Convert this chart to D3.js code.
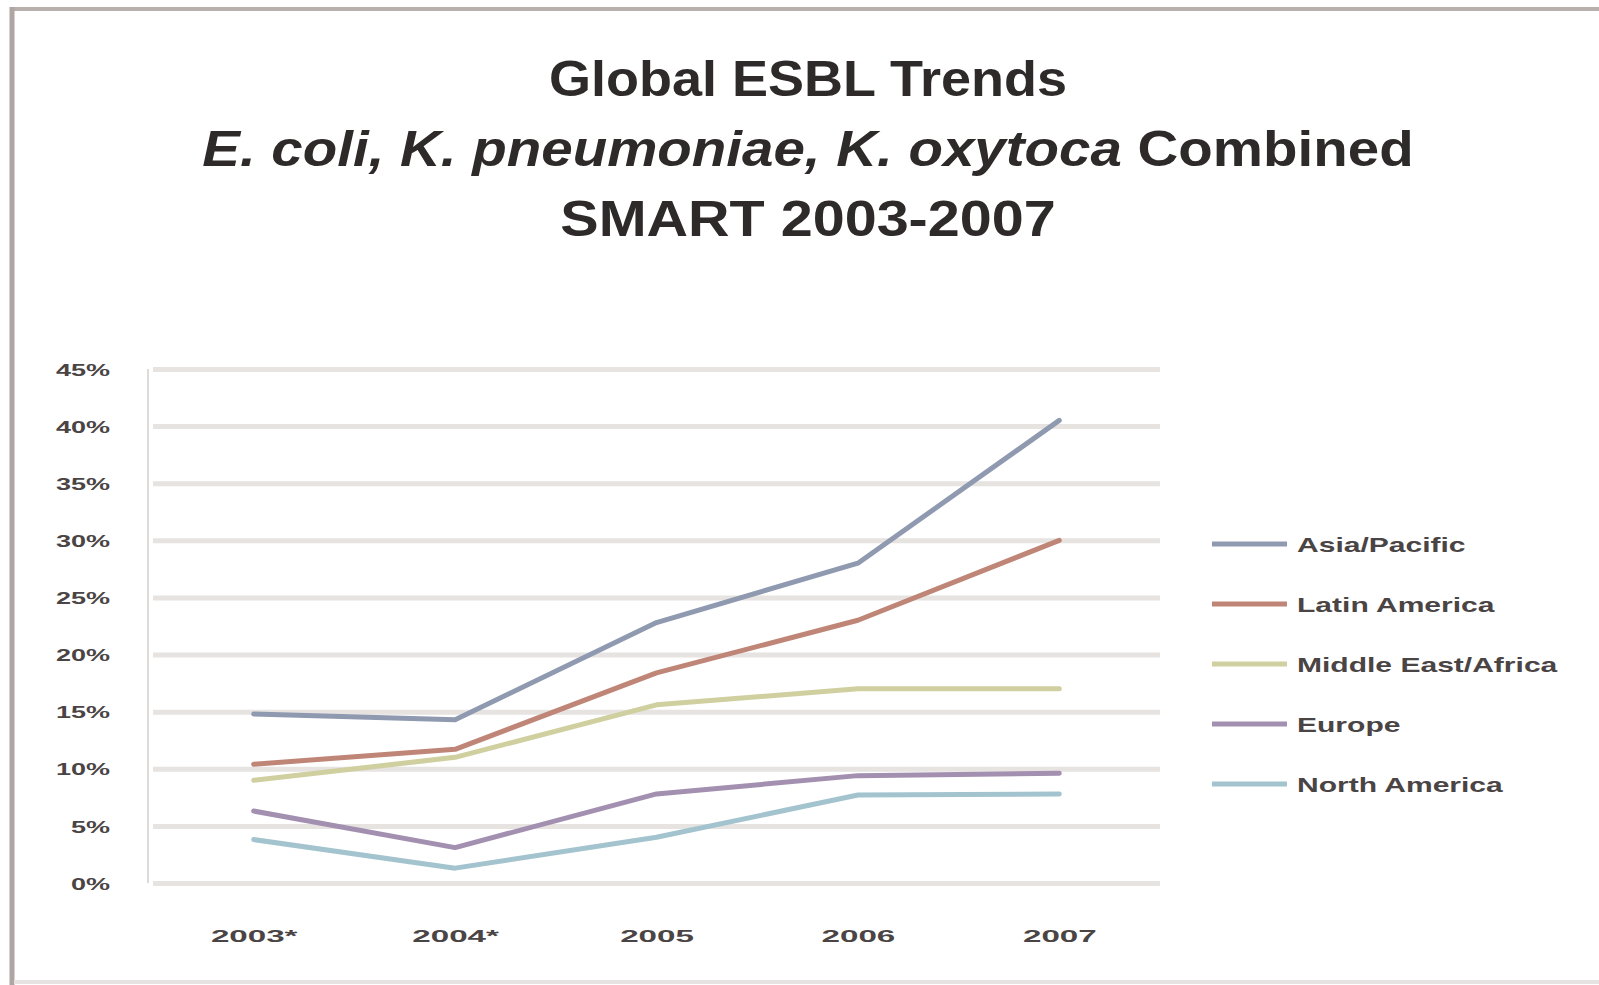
<!DOCTYPE html>
<html>
<head>
<meta charset="utf-8">
<script src="https://cdn.jsdelivr.net/npm/d3@7"></script>
<style>
  html, body { margin: 0; padding: 0; background: #ffffff; }
  svg { display: block; }
  text { font-family: "Liberation Sans", Arial, sans-serif; }
</style>
</head>
<body>
<script>
// Category labels (asterisk marks partial-year data)
const years = ["2003*", "2004*", "2005", "2006", "2007"];

// ESBL rate (%) per region and year
const asiaPacific       = [14.8, 14.3, 22.8, 28.0, 40.5];
const latinAmerica      = [10.4, 11.7, 18.4, 23.0, 30.0];
const middleEastAfrica  = [9.0, 11.0, 15.6, 17.0, 17.0];
const europe            = [6.3, 3.1, 7.8, 9.4, 9.6];
const northAmerica      = [3.8, 1.3, 4.0, 7.7, 7.8];

const seriesNames  = ["Asia/Pacific", "Latin America", "Middle East/Africa", "Europe", "North America"];
const seriesValues = [asiaPacific, latinAmerica, middleEastAfrica, europe, northAmerica];
const seriesColors = ["#8f99b0", "#bf8577", "#cfcf9f", "#a390b0", "#a3c4ce"];

// Value-axis ticks (%)
const yTicks = [0, 5, 10, 15, 20, 25, 30, 35, 40, 45];

const W = 1599, H = 985;
const plot = { left: 153, right: 1160, top: 369, bottom: 883 };

const svg = d3.select("body").append("svg")
  .attr("width", W).attr("height", H);

// Frame edges
svg.append("line").attr("x1", 10).attr("x2", W).attr("y1", 9).attr("y2", 9)
  .attr("stroke", "#b8b0ad").attr("stroke-width", 4);
svg.append("line").attr("x1", 12).attr("x2", 12).attr("y1", 7).attr("y2", H)
  .attr("stroke", "#afa6a3").attr("stroke-width", 5);
svg.append("line").attr("x1", 14).attr("x2", W).attr("y1", 982).attr("y2", 982)
  .attr("stroke", "#e6e2e1").attr("stroke-width", 4);

const x = d3.scalePoint().domain(years).range([plot.left, plot.right]).padding(0.5);
const y = d3.scaleLinear().domain([0, 45]).range([plot.bottom, plot.top]);

// Horizontal gridlines
const grid = svg.append("g")
  .attr("transform", `translate(${plot.left},0)`)
  .call(d3.axisLeft(y).tickValues(yTicks).tickSize(-(plot.right - plot.left)).tickFormat(""));
grid.select(".domain").remove();
grid.selectAll(".tick line").attr("stroke", "#e6e3e1").attr("stroke-width", 5);

// Vertical value axis line
svg.append("line")
  .attr("x1", plot.left - 5).attr("x2", plot.left - 5)
  .attr("y1", y(45)).attr("y2", y(0))
  .attr("stroke", "#dedad8").attr("stroke-width", 2);

// Y-axis labels (wide bold face)
const yAxis = svg.append("g")
  .attr("transform", "translate(110,0)")
  .call(d3.axisLeft(y).tickValues(yTicks).tickSize(0).tickPadding(0).tickFormat(d => d + "%"));
yAxis.select(".domain").remove();
yAxis.selectAll(".tick text")
  .attr("x", 0)
  .attr("dy", "0.36em")
  .attr("text-anchor", "end")
  .attr("transform", "scale(1.59,1)")
  .style("font-size", "17px")
  .style("font-weight", "bold")
  .style("font-family", "'Liberation Sans', Arial, sans-serif")
  .attr("fill", "#4a4444");

// X-axis labels
const xAxis = svg.append("g")
  .attr("transform", "translate(0,936)")
  .call(d3.axisBottom(x).tickSize(0).tickPadding(0));
xAxis.select(".domain").remove();
xAxis.selectAll(".tick text")
  .attr("y", 0)
  .attr("dy", "0.36em")
  .attr("transform", "scale(1.95,1)")
  .style("font-size", "17px")
  .style("font-weight", "bold")
  .style("font-family", "'Liberation Sans', Arial, sans-serif")
  .attr("fill", "#4a4444");

// Series lines
const line = d3.line()
  .x((d, i) => x(years[i]))
  .y(d => y(d));

svg.append("g").selectAll("path")
  .data(seriesValues)
  .join("path")
  .attr("d", d => line(d))
  .attr("fill", "none")
  .attr("stroke", (d, i) => seriesColors[i])
  .attr("stroke-width", 5)
  .attr("stroke-linejoin", "round")
  .attr("stroke-linecap", "round");

// Legend
const legend = svg.append("g");
const legendY = i => 544 + i * 60;
legend.selectAll("line")
  .data(seriesNames)
  .join("line")
  .attr("x1", 1212).attr("x2", 1287)
  .attr("y1", (d, i) => legendY(i)).attr("y2", (d, i) => legendY(i))
  .attr("stroke", (d, i) => seriesColors[i])
  .attr("stroke-width", 5);
legend.selectAll("g.item")
  .data(seriesNames)
  .join("g")
  .attr("class", "item")
  .attr("transform", (d, i) => `translate(1297,${legendY(i)}) scale(1.43,1)`)
  .append("text")
  .attr("dy", "0.36em")
  .style("font-size", "21px")
  .style("font-weight", "bold")
  .attr("fill", "#4a4444")
  .text(d => d);

// Title (three centred lines, species names in italics)
const titleX = 808;
const titleLines = [
  [{ t: "Global ESBL Trends", i: false }],
  [{ t: "E. coli,", i: true }, { t: " ", i: false }, { t: "K. pneumoniae,", i: true }, { t: " ", i: false },
   { t: "K. oxytoca", i: true }, { t: " Combined", i: false }],
  [{ t: "SMART 2003-2007", i: false }]
];
const titleBaselines = [96, 166, 236];
const titleStretch = [1.08, 1.13, 1.15];
const title = svg.append("g");
title.selectAll("g")
  .data(titleLines)
  .join("g")
  .attr("transform", (d, i) => `translate(${titleX},${titleBaselines[i]}) scale(${titleStretch[i]},1)`)
  .append("text")
  .attr("text-anchor", "middle")
  .style("font-size", "50px")
  .style("font-weight", "bold")
  .attr("fill", "#2e2a2a")
  .selectAll("tspan")
  .data(d => d)
  .join("tspan")
  .style("font-style", d => d.i ? "italic" : "normal")
  .text(d => d.t);
</script>
</body>
</html>
